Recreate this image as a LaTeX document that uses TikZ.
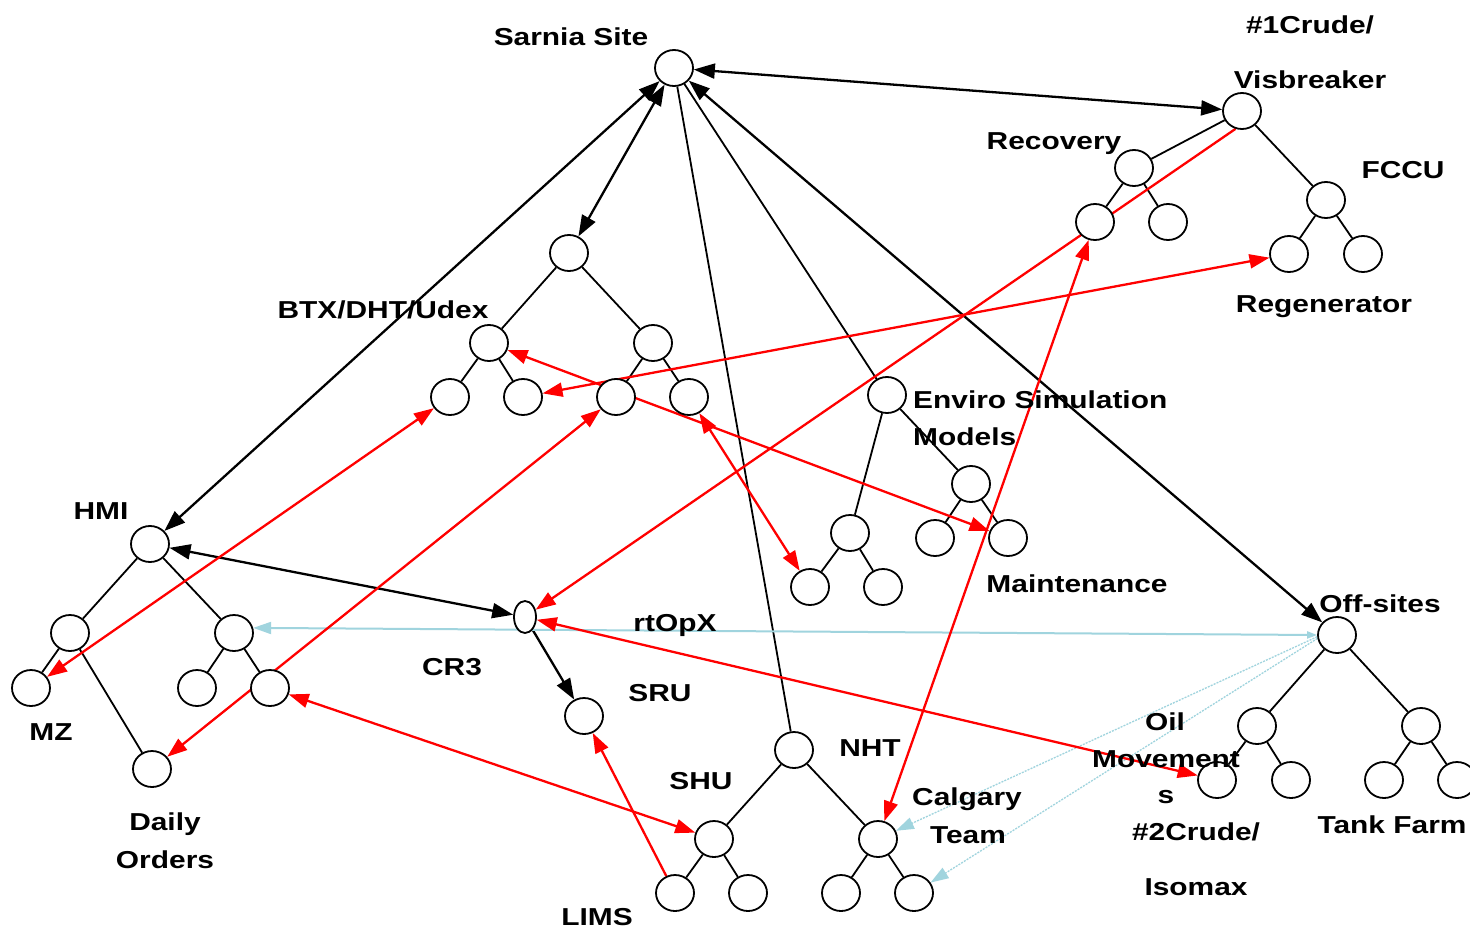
\documentclass[tikz,border=0pt]{standalone}
\usepackage{fontspec}
\setmainfont{Liberation Sans}[FakeStretch=1.22]
\usetikzlibrary{shapes.geometric,arrows.meta}
\definecolor{lblue}{RGB}{160,212,222}
\definecolor{ared}{RGB}{255,0,0}
\pgfdeclarelayer{bg}
\pgfsetlayers{bg,main}
\begin{document}
\begin{tikzpicture}[x=1pt,y=-1pt,
  nd/.style={ellipse,draw,line width=1.8pt,minimum width=38pt,minimum height=36pt,inner sep=0pt,fill=white},
  small/.style={ellipse,draw,line width=1.8pt,minimum width=22pt,minimum height=32pt,inner sep=0pt,fill=white},
  tree/.style={line width=1.8pt,black},
  blk/.style={line width=2.3pt,black,arrows={-Triangle[length=21pt,width=15pt]}},
  blkd/.style={line width=2.3pt,black,arrows={Triangle[length=21pt,width=15pt]-Triangle[length=21pt,width=15pt]}},
  red1/.style={line width=2.3pt,ared,arrows={-Triangle[length=20pt,width=14pt]}},
  redd/.style={line width=2.3pt,ared,arrows={Triangle[length=20pt,width=14pt]-Triangle[length=20pt,width=14pt]}},
  blu/.style={line width=2pt,lblue,arrows={Triangle[length=18pt,width=12pt]-Triangle[length=10pt,width=7pt]}},
  bludot/.style={line width=1.3pt,lblue,dash pattern=on 2pt off 1.2pt,arrows={-Triangle[length=18pt,width=12pt]}},
  lbl/.style={font=\fontsize{24.5}{30}\selectfont\bfseries,inner sep=0pt,anchor=base}]
\useasboundingbox (0,0) rectangle (1470,930);
\begin{pgfonlayer}{bg}
\fill[white] (0,0) rectangle (1470,930);
\end{pgfonlayer}

% ---- nodes ----
\node[nd] (S) at (674,68) {};
\node[nd] (V) at (1242,111) {};
\node[nd] (R) at (1134,168) {};
\node[nd] (R1) at (1095,222) {};
\node[nd] (R2) at (1168,222) {};
\node[nd] (F) at (1326,200) {};
\node[nd] (F1) at (1289,254) {};
\node[nd] (F2) at (1363,254) {};
\node[nd] (B) at (569,253) {};
\node[nd] (B1) at (489,343) {};
\node[nd] (B2) at (653,343) {};
\node[nd] (B11) at (450,397) {};
\node[nd] (B12) at (523,397) {};
\node[nd] (B21) at (616,397) {};
\node[nd] (B22) at (689,397) {};
\node[nd] (E) at (887,395) {};
\node[nd] (E1) at (850,533) {};
\node[nd] (E11) at (810,587) {};
\node[nd] (E12) at (883,587) {};
\node[nd] (M) at (971,484) {};
\node[nd] (M1) at (935,538) {};
\node[nd] (M2) at (1008,538) {};
\node[nd] (H) at (150,544) {};
\node[nd] (H1) at (70,633) {};
\node[nd] (MZ) at (31,688) {};
\node[nd] (DO) at (152,769) {};
\node[nd] (H2) at (234,633) {};
\node[nd] (H21) at (197,688) {};
\node[nd] (H22) at (270,688) {};
\node[small] (C) at (525,617) {};
\node[nd] (SRU) at (584,716) {};
\node[nd] (N) at (794,750) {};
\node[nd] (SHU) at (714,839) {};
\node[nd] (SHU1) at (675,893) {};
\node[nd] (SHU2) at (748,893) {};
\node[nd] (CT) at (878,839) {};
\node[nd] (CT1) at (841,893) {};
\node[nd] (CT2) at (914,893) {};
\node[nd] (O) at (1337,635) {};
\node[nd] (O1) at (1257,726) {};
\node[nd] (O11) at (1217,780) {};
\node[nd] (O12) at (1291,780) {};
\node[nd] (O2) at (1421,726) {};
\node[nd] (O21) at (1384,780) {};
\node[nd] (O22) at (1457,780) {};

% ---- connectors ----
\begin{pgfonlayer}{bg}
\foreach \a/\b in {V/R,V/F,R/R1,R/R2,F/F1,F/F2,B/B1,B/B2,B1/B11,B1/B12,B2/B21,B2/B22,
  S/E,E/E1,E/M,E1/E11,E1/E12,M/M1,M/M2,H/H1,H/H2,H1/MZ,H1/DO,H2/H21,H2/H22,
  S/N,N/SHU,N/CT,SHU/SHU1,SHU/SHU2,CT/CT1,CT/CT2,O/O1,O/O2,O1/O11,O1/O12,O2/O21,O2/O22}
  {\draw[tree] (\a) -- (\b);}
% black arrows
\draw[blkd] (S) -- (V);
\draw[blkd] (S) -- (H);
\draw[blkd] (S) -- (B);
\draw[blkd] (S) -- (O);
\draw[blkd] (H) -- (C);
\draw[blk] (C) -- (SRU);
% light blue
\draw[blu] (H2.15) -- (O.180);
\draw[bludot] (O.185) -- (CT);
\draw[bludot] (O.190) -- (CT2);
% red
\draw[red1] (V.250) -- (C);
\draw[redd] (B12) -- (F1);
\draw[redd] (B1) -- (M2);
\draw[redd] (B22) -- (E11);
\draw[redd] (B11) -- (MZ);
\draw[redd] (B21) -- (DO);
\draw[redd] (H22) -- (SHU);
\draw[red1] (SHU1) -- (SRU);
\draw[redd] (C) -- (O11);
\draw[redd] (R1) -- (CT);
\end{pgfonlayer}

% ---- labels ----
\node[lbl] (tSarnia) at (571,45) {Sarnia Site};
\node[lbl] (tCrude1a) at (1310,33) {\#1Crude/};
\node[lbl] (tCrude1b) at (1310,88) {Visbreaker};
\node[lbl] (tRec) at (1054,149) {Recovery};
\node[lbl] (tFCCU) at (1403,178) {FCCU};
\node[lbl] (tRegen) at (1324,312) {Regenerator};
\node[lbl] (tBTX) at (383,318) {BTX/DHT/Udex};
\node[lbl,anchor=base west] (tEnv1) at (913,408) {Enviro Simulation};
\node[lbl,anchor=base west] (tEnv2) at (913,445) {Models};
\node[lbl] (tMaint) at (1077,592) {Maintenance};
\node[lbl] (tHMI) at (101,519) {HMI};
\node[lbl] (tMZ) at (51,740) {MZ};
\node[lbl] (tDaily1) at (165,830) {Daily};
\node[lbl] (tDaily2) at (165,868) {Orders};
\node[lbl] (trt) at (675,631) {rtOpX};
\node[lbl] (tCR3) at (452,675) {CR3};
\node[lbl] (tSRU) at (660,701) {SRU};
\node[lbl] (tNHT) at (870,756) {NHT};
\node[lbl] (tSHU) at (701,789) {SHU};
\node[lbl] (tCal1) at (967,805) {Calgary};
\node[lbl] (tCal2) at (968,843) {Team};
\node[lbl] (tLIMS) at (597,925) {LIMS};
\node[lbl] (tOff) at (1380,612) {Off-sites};
\node[lbl] (tOil1) at (1165,730) {Oil};
\node[lbl] (tOil2) at (1166,767) {Movement};
\node[lbl] (tOil3) at (1166,803) {s};
\node[lbl] (tCr2a) at (1196,840) {\#2Crude/};
\node[lbl] (tCr2b) at (1196,895) {Isomax};
\node[lbl] (tTank) at (1392,833) {Tank Farm};
\end{tikzpicture}
\end{document}
